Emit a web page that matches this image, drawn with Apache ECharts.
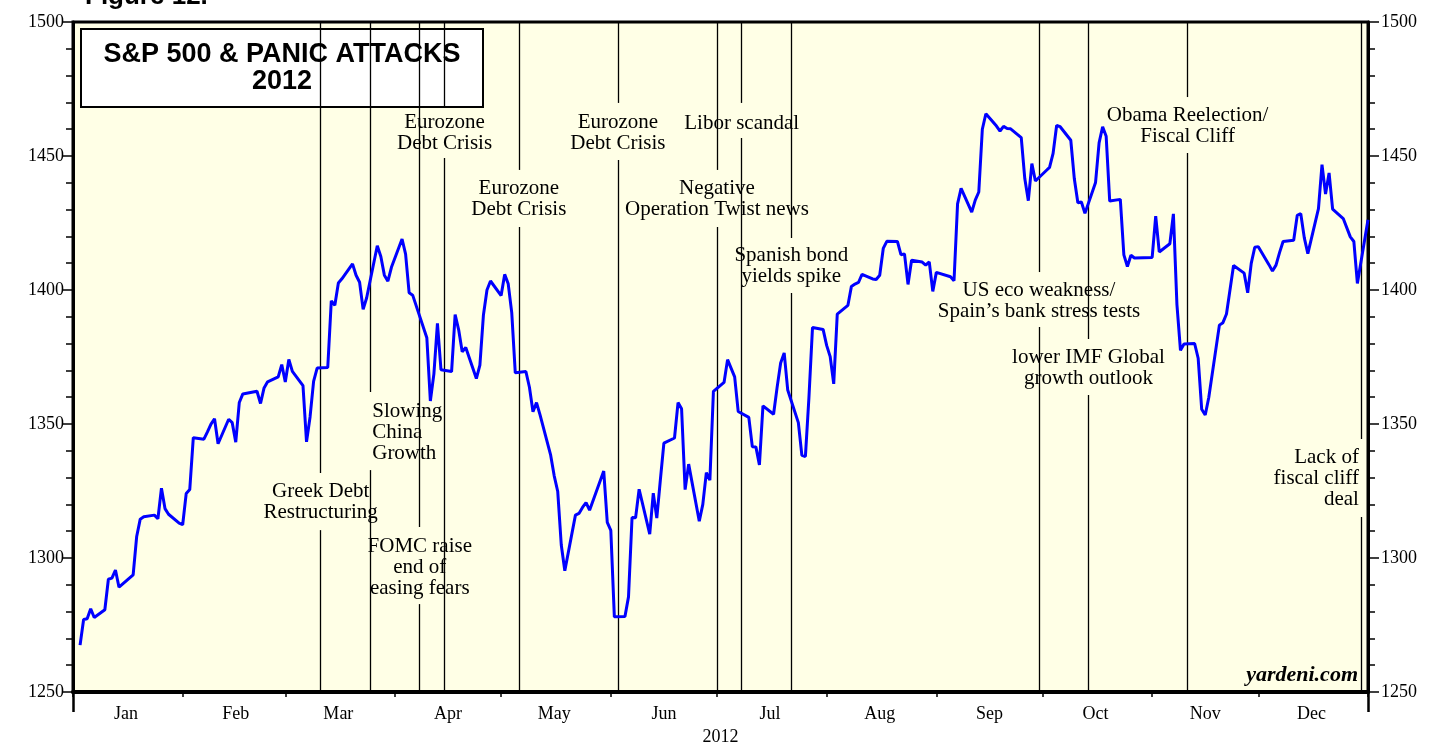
<!DOCTYPE html>
<html><head><meta charset="utf-8">
<script src="https://cdn.jsdelivr.net/npm/echarts@6/dist/echarts.min.js"></script>
<style>html,body{margin:0;padding:0;background:#fff}#c{width:1436px;height:746px}</style>
</head><body><div id="c"></div>
<script>
// Plotted dates (as positioned on the reference) and S&P 500 closes
const dates = [
'2012-01-03','2012-01-04','2012-01-05','2012-01-06','2012-01-07','2012-01-10','2012-01-11','2012-01-12','2012-01-13','2012-01-14',
'2012-01-18','2012-01-19','2012-01-20','2012-01-21','2012-01-24','2012-01-25','2012-01-26','2012-01-27','2012-01-28','2012-01-31','2012-02-01',
'2012-02-02','2012-02-03','2012-02-04','2012-02-07','2012-02-08','2012-02-09','2012-02-10','2012-02-11','2012-02-14','2012-02-15',
'2012-02-16','2012-02-17','2012-02-18','2012-02-22','2012-02-23','2012-02-24','2012-02-25','2012-02-28','2012-02-29','2012-03-01',
'2012-03-02','2012-03-03','2012-03-06','2012-03-07','2012-03-08','2012-03-09','2012-03-10','2012-03-13','2012-03-14','2012-03-15',
'2012-03-16','2012-03-17','2012-03-20','2012-03-21','2012-03-22','2012-03-23','2012-03-24','2012-03-27','2012-03-28','2012-03-29',
'2012-03-30','2012-03-31',
'2012-04-03','2012-04-04','2012-04-05','2012-04-06','2012-04-10','2012-04-11','2012-04-12','2012-04-13','2012-04-14','2012-04-17',
'2012-04-18','2012-04-19','2012-04-20','2012-04-21','2012-04-24','2012-04-25','2012-04-26','2012-04-27','2012-04-28','2012-05-01',
'2012-05-02','2012-05-03','2012-05-04','2012-05-05','2012-05-08','2012-05-09','2012-05-10','2012-05-11','2012-05-12','2012-05-15',
'2012-05-16','2012-05-17','2012-05-18','2012-05-19','2012-05-22','2012-05-23','2012-05-24','2012-05-25','2012-05-26','2012-05-30',
'2012-05-31','2012-06-01',
'2012-06-02','2012-06-05','2012-06-06','2012-06-07','2012-06-08','2012-06-09','2012-06-12','2012-06-13','2012-06-14','2012-06-15',
'2012-06-16','2012-06-19','2012-06-20','2012-06-21','2012-06-22','2012-06-23','2012-06-26','2012-06-27','2012-06-28','2012-06-29',
'2012-06-30',
'2012-07-03','2012-07-04','2012-07-06','2012-07-07','2012-07-10','2012-07-11','2012-07-12','2012-07-13','2012-07-14','2012-07-17',
'2012-07-18','2012-07-19','2012-07-20','2012-07-21','2012-07-24','2012-07-25','2012-07-26','2012-07-27','2012-07-28','2012-07-31',
'2012-08-01',
'2012-08-02','2012-08-03','2012-08-04','2012-08-07','2012-08-08','2012-08-09','2012-08-10','2012-08-11','2012-08-14','2012-08-15',
'2012-08-16','2012-08-17','2012-08-18','2012-08-21','2012-08-22','2012-08-23','2012-08-24','2012-08-25','2012-08-28','2012-08-29',
'2012-08-30','2012-08-31','2012-09-01',
'2012-09-05','2012-09-06','2012-09-07','2012-09-08','2012-09-11','2012-09-12','2012-09-13','2012-09-14','2012-09-15','2012-09-18',
'2012-09-19','2012-09-20','2012-09-21','2012-09-22','2012-09-25','2012-09-26','2012-09-27','2012-09-28','2012-09-29',
'2012-10-02','2012-10-03','2012-10-04','2012-10-05','2012-10-06','2012-10-09','2012-10-10','2012-10-11','2012-10-12','2012-10-13',
'2012-10-16','2012-10-17','2012-10-18','2012-10-19','2012-10-20','2012-10-23','2012-10-24','2012-10-25','2012-10-26','2012-10-27',
'2012-11-01',
'2012-11-02','2012-11-03','2012-11-06','2012-11-07','2012-11-08','2012-11-09','2012-11-10','2012-11-13','2012-11-14','2012-11-15',
'2012-11-16','2012-11-17','2012-11-20','2012-11-21','2012-11-22','2012-11-24','2012-11-27','2012-11-28','2012-11-29','2012-11-30',
'2012-12-01',
'2012-12-04','2012-12-05','2012-12-06','2012-12-07','2012-12-08','2012-12-11','2012-12-12','2012-12-13','2012-12-14','2012-12-15',
'2012-12-18','2012-12-19','2012-12-20','2012-12-21','2012-12-22','2012-12-25','2012-12-27','2012-12-28','2012-12-29','2013-01-01'
];
const closes = [
1267.5,1277.06,1277.30,1281.06,1277.81,1280.70,1292.08,1292.48,1295.50,1289.09,
1293.67,1308.04,1314.50,1315.38,1316.00,1314.65,1326.06,1318.43,1316.33,1313.01,1312.41,
1324.09,1325.54,1344.90,1344.33,1347.05,1349.96,1351.95,1342.64,1351.77,1350.50,
1343.23,1358.04,1361.23,1362.21,1357.66,1363.46,1365.74,1367.59,1372.18,1365.68,
1374.09,1369.63,1364.33,1343.36,1352.63,1365.91,1370.87,1371.09,1395.95,1394.28,
1402.60,1404.17,1409.75,1405.52,1402.89,1392.78,1397.11,1416.51,1412.52,1405.54,
1403.28,1408.47,
1419.04,1413.38,1398.96,1398.08,1382.20,1358.59,1368.71,1387.57,1370.26,1369.57,
1390.78,1385.14,1376.92,1378.53,1366.94,1371.97,1390.69,1399.98,1403.36,1397.91,
1405.82,1402.31,1391.57,1369.10,1369.58,1363.72,1354.58,1357.99,1353.39,1338.35,
1330.66,1324.80,1304.86,1295.22,1315.99,1316.63,1318.86,1320.68,1317.82,1332.42,
1313.32,1310.33,
1278.04,1278.18,1285.50,1315.13,1314.99,1325.66,1308.93,1324.18,1314.88,1329.10,
1342.84,1344.78,1357.98,1355.69,1325.51,1335.02,1313.72,1319.99,1331.85,1329.04,
1362.16,
1365.51,1374.02,1367.58,1354.68,1352.46,1341.47,1341.45,1334.76,1356.78,1353.64,
1363.67,1372.78,1376.51,1362.66,1350.52,1338.31,1337.89,1360.02,1385.97,1385.30,
1379.32,
1375.14,1365.00,1390.99,1394.23,1401.35,1402.22,1402.80,1405.87,1404.11,1403.93,
1405.53,1415.51,1418.16,1418.13,1413.17,1413.49,1402.08,1411.13,1410.44,1409.30,
1410.49,1399.48,1406.58,
1404.94,1403.44,1432.12,1437.92,1429.08,1433.56,1436.56,1459.99,1465.77,1461.19,
1459.32,1461.05,1460.26,1460.15,1456.89,1441.59,1433.32,1447.15,1440.67,
1444.49,1445.75,1450.99,1461.40,1460.93,1455.88,1441.48,1432.56,1432.84,1428.59,
1440.13,1454.92,1460.91,1457.34,1433.19,1433.82,1413.11,1408.75,1412.97,1411.94,
1412.16,
1427.59,1414.20,1417.26,1428.39,1394.53,1377.51,1379.85,1380.03,1374.53,1355.49,
1353.33,1359.88,1386.89,1387.81,1391.03,1409.15,1406.29,1398.94,1409.93,1415.95,
1416.18,
1409.46,1407.05,1409.28,1413.94,1418.07,1418.55,1427.84,1428.48,1419.45,1413.58,
1430.36,1446.79,1435.81,1443.69,1430.15,1426.66,1419.83,1418.10,1402.43,1426.19
];
const monthNames = ['Jan','Feb','Mar','Apr','May','Jun','Jul','Aug','Sep','Oct','Nov','Dec'];
const yMin = 1250, yMax = 1500, yStep = 50;

// Event annotations
const eventDates = ['2012-03-11','2012-03-25','2012-04-08','2012-04-15','2012-05-06','2012-06-03','2012-07-01','2012-07-08','2012-07-22','2012-09-30','2012-10-14','2012-11-11','2012-12-30'];
const eventTexts = [
 'Greek Debt\nRestructuring',
 'Slowing\nChina\nGrowth',
 'FOMC raise\nend of\neasing fears',
 'Eurozone\nDebt Crisis',
 'Eurozone\nDebt Crisis',
 'Eurozone\nDebt Crisis',
 'Negative\nOperation Twist news',
 'Libor scandal',
 'Spanish bond\nyields spike',
 'US eco weakness/\nSpain\u2019s bank stress tests',
 'lower IMF Global\ngrowth outlook',
 'Obama Reelection/\nFiscal Cliff',
 'Lack of\nfiscal cliff\ndeal'
];
const eventTextY   = [1320.9,1347.0,1296.6,1458.6,1433.8,1458.6,1433.8,1462.3,1408.8,1396.0,1371.0,1461.2,1329.5];
const eventGapTop  = [1331.7,1361.9,1311.6,1467.9,1444.8,1469.8,1444.8,1469.8,1419.4,1406.7,1381.7,1472.0,1344.4];
const eventGapBot  = [1310.4,1332.8,1282.8,1449.3,1423.5,1448.5,1423.5,1456.7,1398.9,1386.2,1360.8,1451.1,1315.3];
const eventAlign   = ['center','left','center','center','center','center','center','center','center','center','center','center','right'];

function ts(s){ const p = s.split('-').map(Number); return new Date(p[0], p[1]-1, p[2]).getTime(); }

const monthStarts = [], monthMids = [];
for (let m = 0; m <= 12; m++) monthStarts.push(new Date(2012, m, 1).getTime());
for (let m = 0; m < 12; m++) monthMids.push(new Date(2012, m, 16).getTime());
const xStart = monthStarts[0], xEnd = monthStarts[12];

const lineData = dates.map((d, i) => [ts(d), closes[i]]);

const markSegs = [];
eventDates.forEach((d, i) => {
  const t = ts(d);
  markSegs.push([{coord: [t, yMax]}, {coord: [t, eventGapTop[i]]}]);
  markSegs.push([{coord: [t, eventGapBot[i]]}, {coord: [t, yMin]}]);
});

const annData = eventDates.map((d, i) => ({
  name: eventTexts[i],
  value: [ts(d), eventTextY[i]],
  label: {
    align: eventAlign[i],
    offset: eventAlign[i] === 'left' ? [2, 0] : (eventAlign[i] === 'right' ? [-2, 0] : [0, 0])
  }
}));

const SERIF = 'Liberation Serif, Times New Roman, serif';
const SANS = 'Liberation Sans, Arial, sans-serif';
const GL = 73, GR = 68, GT = 22, GB = 54;

const chart = echarts.init(document.getElementById('c'), null, {renderer: 'canvas'});
chart.setOption({
  animation: false,
  backgroundColor: '#ffffff',
  grid: {left: GL, right: GR, top: GT, bottom: GB, show: true, backgroundColor: '#FFFFE6',
         borderColor: '#000', borderWidth: 3, containLabel: false, outerBoundsMode: 'none'},
  xAxis: [{
    type: 'value', min: xStart, max: xEnd, position: 'bottom', scale: true,
    axisLine: {show: true, lineStyle: {color: '#000', width: 4}},
    axisTick: {show: true, customValues: monthStarts, length: 5, lineStyle: {color: '#000', width: 1.5}},
    axisLabel: {show: true, customValues: monthMids, margin: 13, color: '#000', fontFamily: SERIF, fontSize: 18,
      formatter: v => monthNames[new Date(v).getMonth()]},
    splitLine: {show: false},
    name: '2012', nameLocation: 'middle', nameGap: 36,
    nameTextStyle: {color: '#000', fontFamily: SERIF, fontSize: 18}
  }, {
    type: 'value', min: xStart, max: xEnd, position: 'bottom', scale: true,
    axisLine: {show: false},
    axisTick: {show: true, customValues: [xStart, xEnd], length: 20, lineStyle: {color: '#000', width: 2.5}},
    axisLabel: {show: false}, splitLine: {show: false}
  }],
  yAxis: [{
    type: 'value', position: 'left', min: yMin, max: yMax, interval: yStep,
    axisLine: {show: true, lineStyle: {color: '#000', width: 3}},
    axisTick: {show: true, length: 11, lineStyle: {color: '#000', width: 1.5}},
    minorTick: {show: true, splitNumber: 5, length: 7, lineStyle: {color: '#000', width: 1.5}},
    axisLabel: {color: '#000', fontFamily: SERIF, fontSize: 18, margin: 9, formatter: v => String(v)},
    splitLine: {show: false}
  }, {
    type: 'value', position: 'right', min: yMin, max: yMax, interval: yStep,
    axisLine: {show: true, lineStyle: {color: '#000', width: 3}},
    axisTick: {show: true, length: 11, lineStyle: {color: '#000', width: 1.5}},
    minorTick: {show: true, splitNumber: 5, length: 7, lineStyle: {color: '#000', width: 1.5}},
    axisLabel: {color: '#000', fontFamily: SERIF, fontSize: 18, margin: 13, formatter: v => String(v)},
    splitLine: {show: false}
  }],
  series: [{
    name: 'events', type: 'line', data: [], silent: true,
    markLine: {silent: true, symbol: ['none', 'none'], label: {show: false},
      lineStyle: {color: '#000', width: 1.3, type: 'solid', opacity: 1}, data: markSegs}
  }, {
    name: 'S&P 500', type: 'line', data: lineData, showSymbol: false, symbol: 'none',
    lineStyle: {color: '#0000FF', width: 3}, z: 5, clip: false
  }, {
    name: 'annotations', type: 'scatter', data: annData, symbolSize: 0.1, silent: true, z: 6,
    itemStyle: {color: 'rgba(0,0,0,0)', opacity: 1},
    label: {show: true, position: 'inside', formatter: '{b}', color: '#000', opacity: 1, fontFamily: SERIF,
      fontSize: 21, lineHeight: 21, verticalAlign: 'middle'}
  }],
  graphic: [
    {type: 'text', left: 85, top: -16, z: 20,
      style: {text: 'Figure 12.', font: 'bold 26px ' + SANS, fill: '#000'}},
    {type: 'group', left: 80, top: 28, z: 20, children: [
      {type: 'rect', shape: {x: 0, y: 0, width: 402, height: 78},
        style: {fill: '#fff', stroke: '#000', lineWidth: 2}},
      {type: 'text', x: 201, y: 26, style: {text: 'S&P 500 & PANIC ATTACKS', font: 'bold 27px ' + SANS,
        fill: '#000', align: 'center', verticalAlign: 'middle'}},
      {type: 'text', x: 201, y: 53, style: {text: '2012', font: 'bold 27px ' + SANS,
        fill: '#000', align: 'center', verticalAlign: 'middle'}}
    ]},
    {type: 'text', right: 1436 - 1358, top: 664, z: 20,
      style: {text: 'yardeni.com', font: 'italic bold 22px ' + SERIF, fill: '#000'}}
  ]
});
</script>
</body></html>
